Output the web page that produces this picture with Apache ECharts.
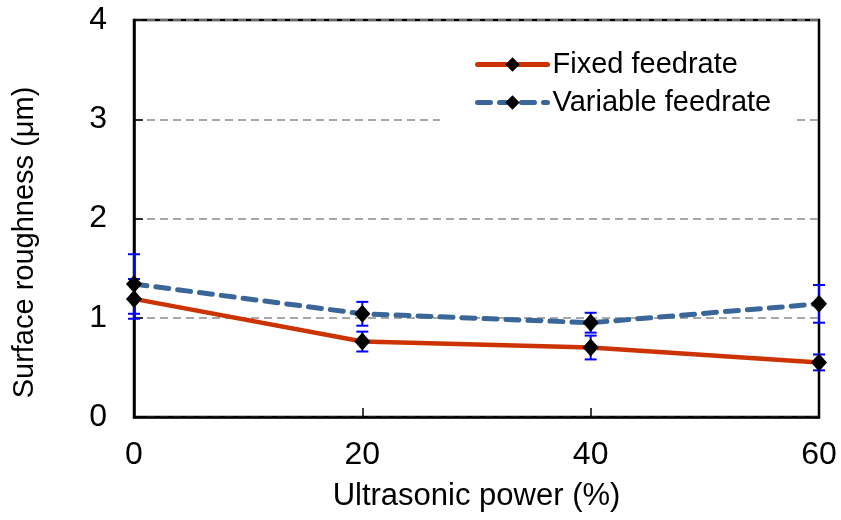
<!DOCTYPE html>
<html>
<head>
<meta charset="utf-8">
<script src="https://cdn.jsdelivr.net/npm/echarts@6/dist/echarts.min.js"></script>
<style>
  html, body { margin: 0; padding: 0; background: #fff; }
  #chart { width: 841px; height: 520px; }
</style>
</head>
<body>
<div id="chart"></div>
<script>
// Ultrasonic power levels (%)
var power = [0, 20, 40, 60];
// Mean surface roughness (µm) and standard deviations
var fixedMean = [1.19, 0.76, 0.70, 0.55];
var fixedErr = [0.20, 0.10, 0.12, 0.08];
var variableMean = [1.34, 1.04, 0.95, 1.14];
var variableErr = [0.30, 0.12, 0.10, 0.19];

var FONT = 'Liberation Sans, Arial, sans-serif';

function pairs(xs, ys) {
  return xs.map(function (x, i) { return [x, ys[i]]; });
}
function errRows(xs, ys, es) {
  return xs.map(function (x, i) { return [x, ys[i] - es[i], ys[i] + es[i]]; });
}

// Vertical error bar with end caps
function errorBarItem(params, api) {
  var x = api.value(0);
  var lo = api.coord([x, api.value(1)]);
  var hi = api.coord([x, api.value(2)]);
  var half = 6;
  var st = { stroke: '#0000ff', lineWidth: 2 };
  return {
    type: 'group',
    children: [
      { type: 'line', shape: { x1: lo[0], y1: lo[1], x2: hi[0], y2: hi[1] }, style: st },
      { type: 'line', shape: { x1: lo[0] - half, y1: lo[1], x2: lo[0] + half, y2: lo[1] }, style: st },
      { type: 'line', shape: { x1: hi[0] - half, y1: hi[1], x2: hi[0] + half, y2: hi[1] }, style: st }
    ]
  };
}

var chart = echarts.init(document.getElementById('chart'), null, { renderer: 'canvas' });
chart.setOption({
  animation: false,
  backgroundColor: '#ffffff',
  textStyle: { fontFamily: FONT },
  grid: {
    left: 134, right: 22, top: 20, bottom: 103,
    show: true, borderColor: '#000', borderWidth: 2.5, backgroundColor: 'transparent'
  },
  legend: {
    left: 440, top: 40,
    orient: 'vertical',
    backgroundColor: '#ffffff',
    padding: [10, 22, 14, 35],
    itemGap: 9,
    itemWidth: 70, itemHeight: 18,
    lineStyle: { width: 5, cap: 'round' },
    textStyle: { fontSize: 29, color: '#000', fontFamily: FONT },
    data: ['Fixed feedrate', 'Variable feedrate']
  },
  xAxis: {
    type: 'value', min: 0, max: 60, interval: 20,
    name: 'Ultrasonic power (%)', nameLocation: 'middle', nameGap: 64,
    nameTextStyle: { fontSize: 31, color: '#000', fontFamily: FONT },
    axisLine: { show: true, lineStyle: { color: '#000', width: 2.5 } },
    axisTick: { show: true, inside: true, length: 9, lineStyle: { color: '#000', width: 1.5 } },
    axisLabel: { fontSize: 32, color: '#000', margin: 22, fontFamily: FONT },
    splitLine: { show: false }
  },
  yAxis: {
    type: 'value', min: 0, max: 4, interval: 1,
    name: 'Surface roughness (\u03bcm)', nameLocation: 'middle', nameGap: 95,
    nameTextStyle: { fontSize: 29, color: '#000', fontFamily: FONT, padding: [0, 48, 0, 0] },
    axisLine: { show: true, lineStyle: { color: '#000', width: 2.5 } },
    axisTick: { show: true, inside: true, length: 9, lineStyle: { color: '#000', width: 1.5 } },
    axisLabel: { fontSize: 32, color: '#000', margin: 27, fontFamily: FONT },
    splitLine: { show: true, lineStyle: { color: '#8c8c8c', width: 1.5, type: [8, 5] } }
  },
  series: [
    {
      name: 'fixed-err', type: 'custom', z: 1,
      renderItem: errorBarItem,
      encode: { x: 0, y: [1, 2] },
      data: errRows(power, fixedMean, fixedErr)
    },
    {
      name: 'variable-err', type: 'custom', z: 1,
      renderItem: errorBarItem,
      encode: { x: 0, y: [1, 2] },
      data: errRows(power, variableMean, variableErr)
    },
    {
      name: 'Fixed feedrate', type: 'line', z: 3,
      data: pairs(power, fixedMean),
      symbol: 'diamond', symbolSize: [16, 18],
      itemStyle: { color: '#000' },
      lineStyle: { color: '#cc3300', width: 4.5 }
    },
    {
      name: 'Variable feedrate', type: 'line', z: 4,
      data: pairs(power, variableMean),
      symbol: 'diamond', symbolSize: [16, 18],
      itemStyle: { color: '#000' },
      lineStyle: { color: '#3b6699', width: 5, type: [13, 9], cap: 'round' }
    }
  ]
});
</script>
</body>
</html>
